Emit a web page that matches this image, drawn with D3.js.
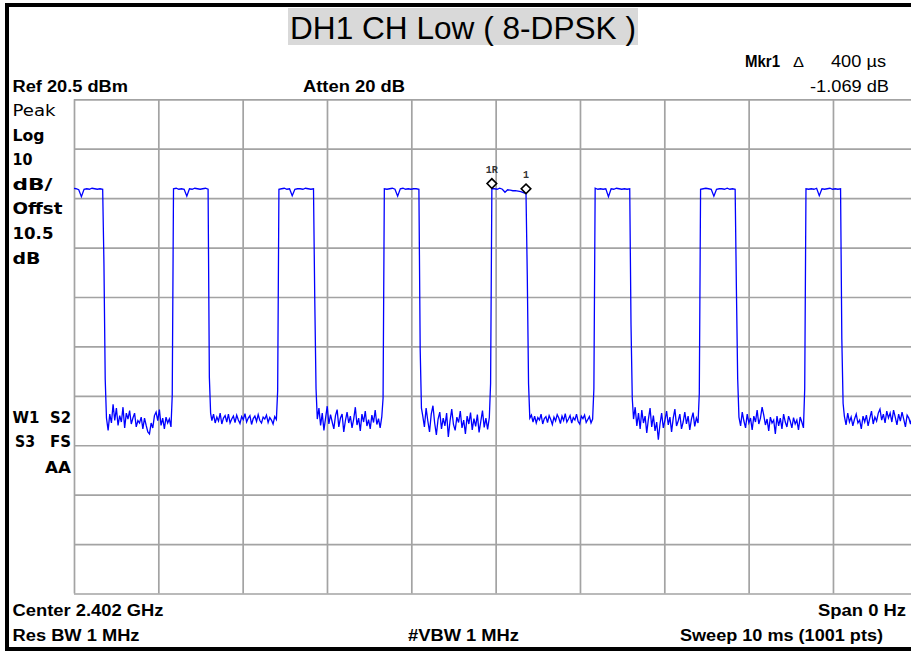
<!DOCTYPE html>
<html><head><meta charset="utf-8">
<script src="https://cdn.jsdelivr.net/npm/d3@7"></script>
<style>body{margin:0;background:#fff}svg{display:block}</style>
</head><body><svg id="chart" width="911" height="651"></svg>
<script>
// ---------------- data ----------------
const titleText = "DH1 CH Low ( 8-DPSK )";
const refLevelDbm = 20.5;
const dbPerDiv = 10;
const sweepMs = 10;
const timeTicksMs = [0,1,2,3,4,5,6,7,8,9,10];
const levelTicksDbm = [20.5,10.5,0.5,-9.5,-19.5,-29.5,-39.5,-49.5,-59.5,-69.5,-79.5];

// burst on/off times (ms)
const pulseRiseMs = [-0.07, 1.18, 2.43, 3.68, 4.955, 6.18, 7.43, 8.68];
const pulseFallMs = [0.34, 1.59, 2.84, 4.09, 5.36, 6.59, 7.84, 9.09];
// intermediate samples on the edges (dBm)
const riseStepDbm  = [-39.4, -39.4, -38.5, -40.0, -37.0, -38.0, -39.0, -38.0];
const fallStep1Dbm = [-12.7, -35.7, -20.0, -30.0, -15.0, -25.0, -18.0, -28.0];
const fallStep2Dbm = [-36.1, -43.0, -38.0, -42.0, -37.0, -40.0, -36.0, -41.0];
// level across each burst (dBm)
const burstTop0 = [2.4,2.3,2.5,2.4,2.2,0.8,2.3,2.4,2.3,2.5,2.4,2.3,2.4,2.3];
const burstTop1 = [2.4,2.5,2.3,2.4,2.3,0.9,2.4,2.3,2.5,2.4,2.3,2.4,2.5,2.3];
const burstTop2 = [2.3,2.4,2.5,2.3,2.4,1.0,2.3,2.4,2.4,2.3,2.5,2.4,2.3,2.4];
const burstTop3 = [2.4,2.3,2.4,2.5,2.3,0.9,2.4,2.5,2.3,2.4,2.3,2.4,2.4,2.3];
const burstTop4 = [2.4,2.4,2.3,2.5,2.3,1.7,2.2,2.1,2.0,2.0,1.9,1.8,1.6,1.4];
const burstTop5 = [2.5,2.3,2.4,2.3,2.4,0.8,2.4,2.3,2.5,2.4,2.3,2.4,2.3,2.4];
const burstTop6 = [2.3,2.4,2.5,2.4,2.3,0.9,2.3,2.4,2.4,2.3,2.5,2.3,2.4,2.3];
const burstTop7 = [2.4,2.3,2.4,2.3,2.5,1.0,2.4,2.3,2.4,2.5,2.3,2.4,2.3,2.4];
// noise floor between bursts (dBm)
const noiseGap1 = [-44.0,-46.5,-43.2,-45.0,-41.2,-44.5,-42.0,-45.5,-43.5,-44.8,-41.8,-46.0,-43.0,-44.2,-42.5,-45.2,-44.0,-43.0,-45.8,-44.5,-45.0,-43.8,-46.2,-44.0,-45.5,-46.8,-47.2,-45.0,-46.0,-43.5,-42.8,-44.5,-42.3,-45.5,-44.0,-46.2,-43.8,-45.0,-44.2,-45.8];
const noiseGap2 = [-44.5,-43.2,-45.0,-43.8,-44.6,-43.0,-45.2,-44.0,-43.5,-44.8,-43.2,-45.0,-44.2,-43.6,-44.9,-43.4,-44.4,-45.1,-43.7,-44.3,-43.1,-44.8,-44.0,-43.5,-45.3,-44.1,-43.6,-44.7,-43.3,-44.5,-45.0,-43.8,-44.2,-43.4,-44.9,-43.9,-44.4,-45.2,-43.7,-44.3];
const noiseGap3 = [-44.2,-42.0,-45.5,-43.0,-46.5,-44.0,-41.6,-45.2,-43.3,-44.8,-46.2,-43.5,-42.3,-45.8,-44.0,-43.2,-46.8,-44.5,-42.8,-45.0,-43.6,-46.0,-44.2,-41.8,-45.4,-44.0,-46.6,-43.2,-44.8,-42.6,-45.6,-44.3,-46.2,-43.4,-44.9,-42.4,-45.3,-44.1,-46.0,-43.7];
const noiseGap4 = [-43.5,-45.8,-42.0,-44.6,-46.8,-43.2,-41.5,-45.0,-47.4,-44.2,-42.8,-46.2,-44.0,-45.6,-43.0,-47.8,-44.6,-42.2,-45.3,-46.5,-43.8,-44.9,-42.6,-46.0,-44.4,-47.2,-43.6,-45.2,-42.9,-46.4,-44.1,-45.7,-43.3,-46.9,-44.7,-42.5,-45.9,-44.0,-46.3,-43.9];
const noiseGap5 = [-44.0,-43.4,-44.8,-43.6,-45.0,-43.9,-44.4,-43.2,-45.2,-44.1,-43.7,-44.9,-43.5,-44.3,-45.3,-43.8,-44.6,-43.3,-44.0,-45.1,-43.6,-44.5,-43.1,-44.8,-44.2,-43.5,-45.0,-43.9,-44.4,-43.2,-44.7,-45.2,-43.6,-44.1,-43.4,-44.9,-44.3,-43.7,-45.0,-44.2];
const noiseGap6 = [-44.2,-41.8,-45.6,-43.0,-46.2,-42.4,-45.0,-43.6,-47.0,-44.2,-42.0,-45.8,-43.5,-46.6,-44.8,-48.4,-45.2,-43.0,-46.0,-44.4,-42.6,-45.4,-43.8,-46.8,-44.0,-42.2,-45.6,-44.6,-43.2,-46.2,-44.8,-42.8,-45.2,-43.6,-46.4,-44.2,-42.9,-45.7,-44.0,-45.0];
const noiseGap7 = [-43.8,-45.6,-42.8,-44.6,-46.0,-43.2,-45.0,-44.0,-46.4,-43.6,-44.8,-42.4,-45.2,-44.0,-41.8,-43.4,-45.4,-44.2,-46.6,-43.8,-45.0,-44.4,-47.2,-43.6,-45.6,-44.0,-46.2,-43.2,-44.8,-45.8,-43.6,-44.6,-46.0,-43.9,-45.2,-44.4,-46.4,-43.8,-44.8,-46.0];
const noiseGap8 = [-43.6,-45.4,-43.0,-44.8,-43.8,-45.6,-44.2,-43.2,-45.0,-44.4,-46.2,-43.6,-44.8,-43.4,-45.6,-44.0,-42.6,-45.2,-43.8,-44.6,-43.0,-42.2,-44.4,-43.2,-45.0,-42.6,-44.0,-43.0,-44.8,-42.4,-43.8,-45.4,-43.2,-44.6,-42.8,-44.2,-45.8,-43.4,-44.0,-45.2,-43.6,-44.6,-43.2,-44.8];
const burstTops = [burstTop0,burstTop1,burstTop2,burstTop3,burstTop4,burstTop5,burstTop6,burstTop7];
const noiseGaps = [noiseGap1,noiseGap2,noiseGap3,noiseGap4,noiseGap5,noiseGap6,noiseGap7,noiseGap8];

// markers
const markerNames = ["1R", "1"];
const markerTimeMs = [4.955, 5.36];
const markerLevelDbm = [2.4, 1.33];

// annotation texts
const leftLabels = ["Peak","Log","10","dB/","Offst","10.5","dB"];

// ---------------- drawing ----------------
const svg = d3.select("#chart");
const W = 911, H = 651;
const plot = {left: 74, right: 917.3, top: 99.3, bottom: 593.5};

const x = d3.scaleLinear().domain([0, sweepMs]).range([plot.left, plot.right]);
const y = d3.scaleLinear().domain([refLevelDbm, refLevelDbm - 10*dbPerDiv]).range([plot.top, plot.bottom]);

svg.append("rect").attr("width", W).attr("height", H).attr("fill", "#fff");

// outer black frame
svg.append("rect").attr("x", 7).attr("y", 5).attr("width", 1000).attr("height", 644)
  .attr("fill", "none").attr("stroke", "#000").attr("stroke-width", 4);

// title
svg.append("rect").attr("x", 288).attr("y", 8).attr("width", 350).attr("height", 37).attr("fill", "#d9d9d9");
svg.append("text").attr("x", 290).attr("y", 38.5)
  .attr("font-family", "Liberation Sans, Arial, sans-serif").attr("font-size", 32)
  .attr("textLength", 346).attr("lengthAdjust", "spacingAndGlyphs")
  .attr("fill", "#000").text(titleText);

// grid
const grid = svg.append("g");
grid.append("g").attr("transform", `translate(0,${plot.top})`)
  .call(d3.axisTop(x).tickValues(timeTicksMs).tickSize(-(plot.bottom - plot.top)).tickFormat(""))
  .call(g => g.select(".domain").remove())
  .call(g => g.selectAll("line").attr("stroke", "#a3a3a3").attr("stroke-width", 1.7));
grid.append("g").attr("transform", `translate(${plot.left},0)`)
  .call(d3.axisLeft(y).tickValues(levelTicksDbm).tickSize(-(plot.right - plot.left)).tickFormat(""))
  .call(g => g.select(".domain").remove())
  .call(g => g.selectAll("line").attr("stroke", "#a3a3a3").attr("stroke-width", 1.7));

// trace
const pts = [];
for (let p = 0; p < pulseRiseMs.length; p++) {
  const r = pulseRiseMs[p], f = pulseFallMs[p];
  pts.push([r - 0.015, riseStepDbm[p]]);
  const top = burstTops[p];
  top.forEach((v, j) => pts.push([r + (f - r) * j / (top.length - 1), v]));
  pts.push([f + 0.015, fallStep1Dbm[p]]);
  pts.push([f + 0.03, fallStep2Dbm[p]]);
  const gs = f + 0.045;
  const ge = p + 1 < pulseRiseMs.length ? pulseRiseMs[p + 1] - 0.03 : sweepMs;
  const nz = noiseGaps[p];
  nz.forEach((v, j) => pts.push([gs + (ge - gs) * j / (nz.length - 1), v]));
}
svg.append("clipPath").attr("id", "clip").append("rect")
  .attr("x", plot.left).attr("y", plot.top).attr("width", plot.right - plot.left).attr("height", plot.bottom - plot.top);
svg.append("path").datum(pts)
  .attr("clip-path", "url(#clip)")
  .attr("fill", "none").attr("stroke", "#0000ff").attr("stroke-width", 1.3)
  .attr("d", d3.line().x(d => x(d[0])).y(d => y(d[1])));

// markers
const mk = svg.append("g");
markerNames.forEach((n, i) => {
  const mx = x(markerTimeMs[i]), my = y(markerLevelDbm[i]);
  mk.append("path").attr("d", d3.symbol(d3.symbolSquare, 46)())
    .attr("transform", `translate(${mx},${my - 5.2}) rotate(45)`)
    .attr("fill", "#fff").attr("stroke", "#000").attr("stroke-width", 1.6);
  mk.append("text").attr("x", mx).attr("y", my - 16).attr("text-anchor", "middle")
    .attr("font-family", "Liberation Mono, Courier New, monospace").attr("font-size", 10).attr("font-weight", "bold")
    .attr("fill", "#333").text(n);
});

// header / footer annotations
const narrow = "Liberation Sans Narrow, Arial Narrow, Liberation Sans, sans-serif";
function txt(s, x0, y0, len, bold, size, font) {
  svg.append("text").attr("x", x0).attr("y", y0)
    .attr("font-family", font || narrow).attr("font-size", size || 16)
    .attr("font-weight", bold ? "bold" : "normal")
    .attr("textLength", len).attr("lengthAdjust", "spacingAndGlyphs")
    .attr("fill", "#000").text(s);
}
txt("Mkr1", 745, 67, 35, true);
txt("\u0394", 793, 67, 11, false, 15);
txt("400 \u00b5s", 831, 67, 55, false);
txt("Ref 20.5 dBm", 12.5, 92, 115.5, true);
txt("Atten 20 dB", 303, 92, 102, true);
txt("-1.069 dB", 810, 92, 79, false);
txt("Center 2.402 GHz", 12.5, 616, 151, true);
txt("Span 0 Hz", 818, 616, 88, true);
txt("Res BW 1 MHz", 12.5, 641, 127, true);
txt("#VBW 1 MHz", 408, 641, 111, true);
txt("Sweep 10 ms (1001 pts)", 680, 641, 203, true);

// left side labels
const side = "DejaVu Sans, Verdana, sans-serif";
const sideLens = [43, 32, 20, 40, 50, 41, 28];
leftLabels.forEach((s, i) => {
  svg.append("text").attr("x", 12.5).attr("y", 116 + i * 24.6)
    .attr("font-family", side).attr("font-size", 16.5)
    .attr("font-weight", i === 0 ? "normal" : "bold")
    .attr("textLength", sideLens[i]).attr("lengthAdjust", "spacingAndGlyphs")
    .attr("fill", "#000").text(s);
});
function side2(s, x0, y0, len) {
  svg.append("text").attr("x", x0).attr("y", y0).attr("font-family", side).attr("font-size", 16.5)
    .attr("font-weight", "bold").attr("textLength", len).attr("lengthAdjust", "spacingAndGlyphs")
    .attr("fill", "#000").text(s);
}
side2("W1", 12.5, 423, 27);
side2("S2", 50, 423, 21);
side2("S3", 15, 447, 20);
side2("FS", 50, 447, 21);
side2("AA", 45, 472.5, 26);
</script></body></html>
